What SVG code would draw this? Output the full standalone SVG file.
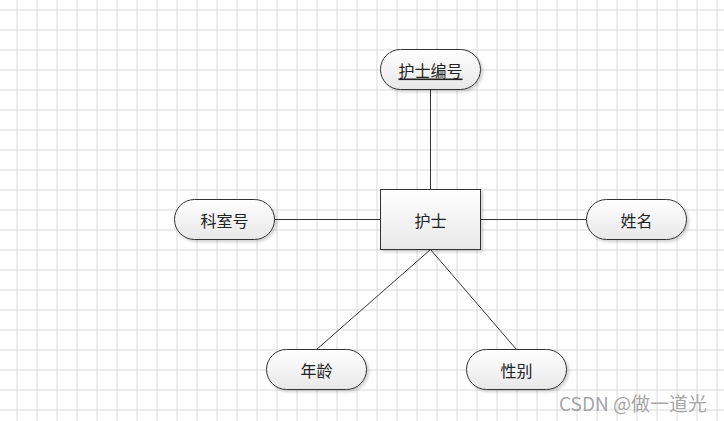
<svg xmlns="http://www.w3.org/2000/svg" width="724" height="421" viewBox="0 0 724 421">
<defs>
<pattern id="grid" x="16.5" y="9.5" width="20" height="20" patternUnits="userSpaceOnUse">
<path d="M0.5 0 V20 M0 0.5 H20" stroke="#d9d9d9" stroke-width="1" fill="none"/>
</pattern>
<linearGradient id="fillg" x1="0" y1="0" x2="0" y2="1">
<stop offset="0" stop-color="#ffffff"/>
<stop offset="1" stop-color="#e8e8e8"/>
</linearGradient>
<filter id="sh" x="-10%" y="-10%" width="130%" height="140%">
<feDropShadow dx="2" dy="2" stdDeviation="1.5" flood-color="#000" flood-opacity="0.18"/>
</filter>
</defs>
<style>
.node{fill:url(#fillg);stroke:#333;stroke-width:1;filter:url(#sh)}
.lbl{font-family:"Noto Sans CJK SC","Liberation Sans",sans-serif;font-size:16px;fill:#222;text-anchor:middle;dominant-baseline:central}
.conn{stroke:#333;stroke-width:1;fill:none}
</style>
<rect width="724" height="421" fill="#fff"/>
<rect width="724" height="421" fill="url(#grid)"/>
<g id="connectors">
<line class="conn" x1="430.5" y1="89.5" x2="430.5" y2="189.5"/>
<line class="conn" x1="274.5" y1="219.5" x2="380.5" y2="219.5"/>
<line class="conn" x1="480.5" y1="219.5" x2="586.5" y2="219.5"/>
<line class="conn" x1="430.5" y1="249.5" x2="316.5" y2="349.5"/>
<line class="conn" x1="430.5" y1="249.5" x2="516.5" y2="349.5"/>
</g>
<g id="node-nurse-id">
<rect class="node" x="380.5" y="49.5" width="100" height="40" rx="20" ry="20"/>
<text class="lbl" x="430.5" y="69.5" text-decoration="underline">护士编号</text>
</g>
<g id="node-nurse">
<rect class="node" x="380.5" y="189.5" width="100" height="60"/>
<text class="lbl" x="430.5" y="219.5">护士</text>
</g>
<g id="node-dept">
<rect class="node" x="174.5" y="199.5" width="100" height="40" rx="20" ry="20"/>
<text class="lbl" x="224.5" y="219.5">科室号</text>
</g>
<g id="node-name">
<rect class="node" x="586.5" y="199.5" width="100" height="40" rx="20" ry="20"/>
<text class="lbl" x="636.5" y="219.5">姓名</text>
</g>
<g id="node-age">
<rect class="node" x="266.5" y="349.5" width="100" height="40" rx="20" ry="20"/>
<text class="lbl" x="316.5" y="369.5">年龄</text>
</g>
<g id="node-sex">
<rect class="node" x="466.5" y="349.5" width="100" height="40" rx="20" ry="20"/>
<text class="lbl" x="516.5" y="369.5">性别</text>
</g>
<text x="633" y="411" font-family="'Noto Sans CJK SC','Liberation Sans',sans-serif" font-size="19" fill="#9a9a9a" fill-opacity="0.9" text-anchor="middle">CSDN @做一道光</text>
</svg>
